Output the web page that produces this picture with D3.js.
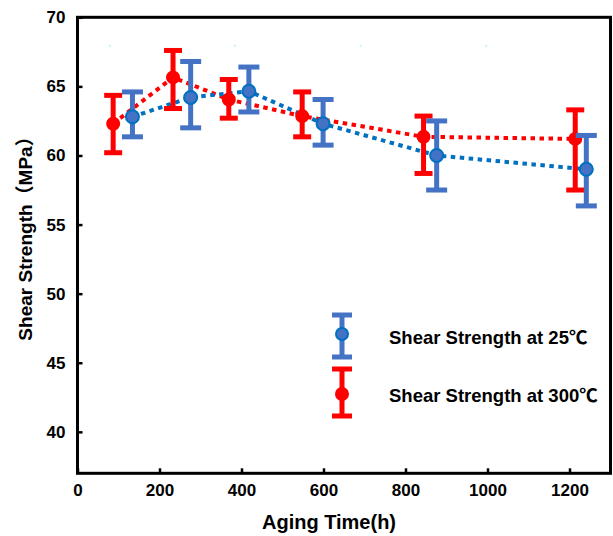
<!DOCTYPE html>
<html>
<head>
<meta charset="utf-8">
<script src="https://cdn.jsdelivr.net/npm/d3@7"></script>
<style>
	body { margin: 0; background: #fff; }
	text { font-family: "Liberation Sans", Arial, "Noto Sans CJK SC", sans-serif; font-weight: bold; }
</style>
</head>
<body>
<svg width="613" height="536"></svg>
<script>
// aging time (h) and shear strength (MPa)
var time_300 = [87, 233, 369, 548, 844, 1214]
var strength_300 = [62.3, 65.65, 64.05, 62.85, 61.35, 61.2]
var high_300 = [64.35, 67.6, 65.5, 64.6, 62.85, 63.3]
var low_300 = [60.2, 63.4, 62.7, 61.35, 58.7, 57.5]

var time_25 = [134, 276, 418, 599, 876, 1241]
var strength_25 = [62.8, 64.2, 64.65, 62.3, 60.0, 59.0]
var high_25 = [64.6, 66.8, 66.4, 64.05, 62.5, 61.45]
var low_25 = [61.35, 62.0, 63.15, 60.75, 57.5, 56.35]

var xTicks = [0, 200, 400, 600, 800, 1000, 1200]
var yTicks = [40, 45, 50, 55, 60, 65, 70]
var legendLabels = ["Shear Strength at 25℃", "Shear Strength at 300℃"]

// faint cyan specks near the top of the frame
var speckX = [79, 384, 691, 997]
var speckY = 67.94

var red = "#ff0000"
var blueBar = "#4472c4"
var blueLine = "#0070c0"

let svg = d3.select("svg");

var x = d3.scaleLinear()
	.domain([0, 1300])
	.range([77.5, 610.5]);

var y = d3.scaleLinear()
	.domain([37, 70])
	.range([473.3, 17.3]);

function makeRows(t, v, lo, hi) {
	return t.map(function(d, i) {
		return {t: d, v: v[i], lo: lo[i], hi: hi[i]}
	})
}
var rows_300 = makeRows(time_300, strength_300, low_300, high_300)
var rows_25 = makeRows(time_25, strength_25, low_25, high_25)

svg.append("rect").attr("width", 613).attr("height", 536).attr("fill", "#fff")

svg.selectAll("speck")
	.data(speckX)
	.enter()
	.append("rect")
	.attr("x", function(d) { return x(d) - 1; })
	.attr("y", y(speckY) - 1)
	.attr("width", 2)
	.attr("height", 2)
	.attr("fill", "#c9f3f3")

// frame
svg.append("rect")
	.attr("x", x(0))
	.attr("y", y(70))
	.attr("width", x(1300) - x(0))
	.attr("height", y(37) - y(70))
	.attr("fill", "none")
	.attr("stroke", "black")
	.attr("stroke-width", 3)

// axes
var xAxis = svg.append("g")
	.attr("transform", "translate(0," + y(37) + ")")
	.call(d3.axisBottom(x).tickValues(xTicks).tickFormat(d3.format("d")).tickSizeInner(-5).tickSizeOuter(0).tickPadding(11))
xAxis.select(".domain").remove()
xAxis.selectAll("line").attr("stroke-width", 2.5)
xAxis.selectAll("text").style("font-size", "17px").attr("fill", "black")

var yAxis = svg.append("g")
	.attr("transform", "translate(" + x(0) + ",0)")
	.call(d3.axisLeft(y).tickValues(yTicks).tickSizeInner(-5).tickSizeOuter(0).tickPadding(12))
yAxis.select(".domain").remove()
yAxis.selectAll("line").attr("stroke-width", 2.5)
yAxis.selectAll("text").style("font-size", "17px").attr("fill", "black")

// dotted connecting lines
var line = d3.line()
	.x(function(d) { return x(d.t); })
	.y(function(d) { return y(d.v); })

svg.append("path")
	.datum(rows_300)
	.attr("d", line)
	.attr("fill", "none")
	.attr("stroke", red)
	.attr("stroke-width", 4)
	.attr("stroke-dasharray", "4.5,4.5")

svg.append("path")
	.datum(rows_25)
	.attr("d", line)
	.attr("fill", "none")
	.attr("stroke", blueLine)
	.attr("stroke-width", 4)
	.attr("stroke-dasharray", "4.5,4.5")

function drawBars(rows, color, capW, dotR, dotFill, dotStroke) {
	var g = svg.append("g")
	var bars = g.selectAll("g")
		.data(rows)
		.enter()
		.append("g")
	bars.append("line")
		.attr("x1", function(d) { return x(d.t); })
		.attr("x2", function(d) { return x(d.t); })
		.attr("y1", function(d) { return y(d.hi); })
		.attr("y2", function(d) { return y(d.lo); })
		.attr("stroke", color)
		.attr("stroke-width", 5)
	bars.append("line")
		.attr("x1", function(d) { return x(d.t) - capW / 2; })
		.attr("x2", function(d) { return x(d.t) + capW / 2; })
		.attr("y1", function(d) { return y(d.hi); })
		.attr("y2", function(d) { return y(d.hi); })
		.attr("stroke", color)
		.attr("stroke-width", 5)
	bars.append("line")
		.attr("x1", function(d) { return x(d.t) - capW / 2; })
		.attr("x2", function(d) { return x(d.t) + capW / 2; })
		.attr("y1", function(d) { return y(d.lo); })
		.attr("y2", function(d) { return y(d.lo); })
		.attr("stroke", color)
		.attr("stroke-width", 5)
	bars.append("circle")
		.attr("cx", function(d) { return x(d.t); })
		.attr("cy", function(d) { return y(d.v); })
		.attr("r", dotR)
		.attr("fill", dotFill)
		.attr("stroke", dotStroke)
		.attr("stroke-width", 2)
}

drawBars(rows_300, red, 18, 6, red, red)
drawBars(rows_25, blueBar, 21, 6.5, blueBar, blueLine)

// legend
var legend = [
	{label: legendLabels[0], color: blueBar, fill: blueBar, stroke: blueLine, top: 315, bottom: 357, cy: 334, ty: 339},
	{label: legendLabels[1], color: red, fill: red, stroke: red, top: 369, bottom: 416, cy: 394, ty: 397}
]
var lg = svg.append("g")
legend.forEach(function(l) {
	lg.append("line").attr("x1", 342).attr("x2", 342).attr("y1", l.top).attr("y2", l.bottom)
		.attr("stroke", l.color).attr("stroke-width", 5)
	lg.append("line").attr("x1", 332).attr("x2", 352).attr("y1", l.top).attr("y2", l.top)
		.attr("stroke", l.color).attr("stroke-width", 5)
	lg.append("line").attr("x1", 332).attr("x2", 352).attr("y1", l.bottom).attr("y2", l.bottom)
		.attr("stroke", l.color).attr("stroke-width", 5)
	lg.append("circle").attr("cx", 342).attr("cy", l.cy).attr("r", 6)
		.attr("fill", l.fill).attr("stroke", l.stroke).attr("stroke-width", 2)
	lg.append("text")
		.attr("x", 389)
		.attr("y", l.ty)
		.attr("dominant-baseline", "middle")
		.style("font-size", "18.5px")
		.text(l.label)
})

// axis titles
svg.append("text")
	.attr("x", 329)
	.attr("y", 529)
	.attr("text-anchor", "middle")
	.style("font-size", "20px")
	.text("Aging Time(h)")

svg.append("text")
	.attr("text-anchor", "middle")
	.style("font-size", "19px")
	.attr("transform", "translate(32,234)rotate(-90)")
	.text("Shear Strength（MPa）")
</script>
</body>
</html>
